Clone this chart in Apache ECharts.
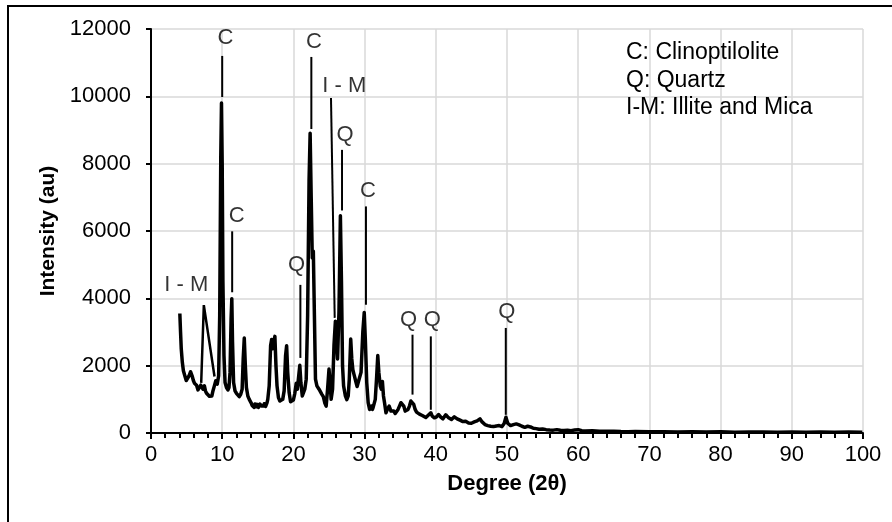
<!DOCTYPE html>
<html>
<head>
<meta charset="utf-8">
<script src="https://cdn.jsdelivr.net/npm/echarts@6/dist/echarts.min.js"></script>
<style>
html,body{margin:0;padding:0;background:#fff;}
#chart{width:892px;height:522px;}
</style>
</head>
<body>
<div id="chart"></div>
<script>
var xrdAngles = [
4.05,4.15,4.25,4.4,4.55,4.75,4.95,5.15,5.35,5.55,5.65,5.8,5.95,6.1,6.25,6.4,6.6,6.8,7.0,7.15,7.3,7.5,7.65,7.8,8.0,8.2,8.4,8.55,8.7,8.9,
9.1,9.3,9.5,9.65,9.8,9.9,10.0,10.1,10.25,10.4,10.6,10.8,10.95,11.1,11.25,11.35,11.45,11.6,11.8,12.0,12.2,12.4,12.6,12.8,12.95,13.1,13.25,13.4,13.6,13.8,
14.0,14.1,14.2,14.3,14.4,14.5,14.6,14.7,14.8,14.9,15.0,15.1,15.2,15.3,15.4,15.5,15.6,15.7,15.8,15.9,16.0,16.1,16.2,16.3,16.4,16.6,16.8,16.95,17.1,17.25,17.4,17.55,17.7,17.9,18.1,18.3,18.5,18.7,18.9,19.05,19.2,19.4,
19.6,19.8,20.0,20.2,20.4,20.55,20.75,20.9,21.05,21.25,21.45,21.6,21.8,22.0,22.2,22.35,22.5,22.65,22.8,22.95,23.1,23.3,23.45,23.6,23.8,24.0,24.2,24.4,24.6,24.8,
25.0,25.15,25.3,25.5,25.7,25.9,26.05,26.2,26.4,26.6,26.75,26.9,27.05,27.3,27.5,27.7,27.85,28.05,28.2,28.35,28.5,28.65,28.8,28.95,29.1,29.3,29.5,29.75,29.95,30.1,
30.3,30.5,30.7,30.8,30.9,31.0,31.1,31.2,31.3,31.5,31.7,31.85,32.0,32.2,32.35,32.5,32.65,32.8,33.0,33.2,33.45,33.7,33.9,34.1,34.3,34.5,34.7,34.9,35.1,35.3,35.5,35.7,35.9,
36.1,36.3,36.5,36.7,36.9,37.1,37.3,37.5,37.7,37.9,38.1,38.3,38.6,38.9,39.1,39.3,39.5,39.8,40.1,40.4,40.7,41.0,41.4,41.8,42.2,42.6,43.0,43.4,43.8,44.2,
44.6,45.0,45.4,45.8,46.2,46.5,46.9,47.3,47.7,48.1,48.5,48.9,49.3,49.6,49.85,50.1,50.5,50.9,51.3,51.7,52.1,52.5,52.9,53.3,53.7,54.1,54.5,55.0,55.5,56.0,
56.5,57.0,57.5,58.0,58.5,59.0,59.5,60.0,60.5,61,62,63,64,65,66,67,68,70,72,74,76,78,80,82,84,86,88,90,92,94,96,98,99.9
];
var xrdIntensity = [
3550,3000,2500,2100,1850,1700,1560,1580,1700,1820,1860,1680,1560,1480,1500,1420,1280,1300,1420,1380,1300,1400,1250,1180,1150,1090,1130,1100,1250,1400,
1550,1450,1700,3500,8200,9800,8000,4500,2300,1500,1350,1280,1350,1800,3400,3990,2700,1500,1250,1180,1150,1080,1150,1300,2200,2820,2000,1350,1100,1000,
950,880,820,870,800,760,860,820,780,850,840,760,790,860,900,800,820,780,800,870,850,790,820,900,1000,1400,2600,2780,2500,2700,2870,2000,1400,1050,950,900,1000,1250,2300,2590,1800,1200,
930,900,980,1180,1480,1300,1700,2010,1500,1100,1050,1300,1600,3500,7500,8900,7000,5200,5400,3500,1600,1400,1450,1300,1350,1150,1080,900,800,1300,
1900,1500,1000,1300,2600,3320,2800,2200,3600,6450,4500,2000,1400,1100,990,1100,1600,2790,2200,1880,1750,1800,1500,1380,1500,1450,1800,3000,3580,2800,
1500,900,700,780,720,800,700,760,800,1000,1700,2300,1800,1400,1300,1530,1100,900,600,700,800,650,600,650,580,620,700,800,900,950,800,650,620,
700,800,950,1000,850,700,620,600,560,580,520,500,460,520,480,600,500,450,480,550,470,420,540,450,400,480,420,380,340,350,
300,290,330,360,420,330,250,220,200,190,210,220,190,280,470,290,220,250,270,240,200,170,200,180,140,130,110,120,100,90,
85,100,80,75,80,70,90,100,70,60,65,55,50,55,45,40,45,35,40,30,35,30,35,25,30,30,25,30,25,30,25,28,25
];
// Broad Illite/Mica hump drawn over the low-angle region
var imHumpAngles = [7.05, 7.42, 8.92];
var imHumpIntensity = [1490, 3800, 1680];

// Peak leader lines: [angle start, intensity start, angle end, intensity end]
var leaderLines = [
  [10.0, 11200, 10.0, 9980],
  [11.4, 5990, 11.4, 4180],
  [20.98, 4400, 20.98, 2230],
  [22.52, 11170, 22.52, 9030],
  [25.28, 9950, 25.8, 3420],
  [26.83, 8410, 26.83, 6610],
  [30.19, 6730, 30.19, 3810],
  [36.73, 2920, 36.73, 1140],
  [39.3, 2870, 39.3, 690],
  [49.83, 3120, 49.83, 540]
];
// Peak labels
var peakLabelText = ['I - M', 'C', 'C', 'Q', 'C', 'I - M', 'Q', 'C', 'Q', 'Q', 'Q'];
var peakLabelAngle = [4.95, 10.46, 12.05, 20.46, 22.9, 27.15, 27.25, 30.47, 36.18, 39.5, 49.97];
var peakLabelIntensity = [4385, 11730, 6454, 5000, 11612, 10315, 8860, 7176, 3345, 3365, 3594];

var legendLines = ['C: Clinoptilolite', 'Q: Quartz', 'I-M: Illite and Mica'];
var xTitle = 'Degree (2\u03b8)';
var yTitle = 'Intensity (au)';

// ---- Build chart ----
var font = 'Liberation Sans, Arial, sans-serif';
var chart = echarts.init(document.getElementById('chart'), null, {renderer: 'canvas'});

var mainData = xrdAngles.map(function (a, i) { return [a, xrdIntensity[i]]; });
var humpData = imHumpAngles.map(function (a, i) { return [a, imHumpIntensity[i]]; });
var labelData = peakLabelText.map(function (t, i) { return {name: t, value: [peakLabelAngle[i], peakLabelIntensity[i]]}; });

var series = [{
  type: 'line', data: mainData, showSymbol: false, symbol: 'none',
  lineStyle: {color: '#000', width: 3.5, join: 'round'}, z: 5, animation: false
}, {
  type: 'line', data: humpData, showSymbol: false, symbol: 'none',
  lineStyle: {color: '#000', width: 2.5}, z: 5, animation: false
}];
leaderLines.forEach(function (l) {
  series.push({
    type: 'line', data: [[l[0], l[1]], [l[2], l[3]]], showSymbol: false, symbol: 'none',
    lineStyle: {color: '#000', width: 2}, z: 4, animation: false
  });
});
series.push({
  type: 'scatter', data: labelData, symbolSize: 0, z: 6, animation: false,
  label: {show: true, position: 'inside', formatter: '{b}', color: '#000', fontSize: 22, fontFamily: font}
});

chart.setOption({
  animation: false,
  backgroundColor: '#fff',
  grid: {left: 151, right: 29, top: 29, bottom: 89, containLabel: false},
  xAxis: {
    type: 'value', min: 0, max: 100, interval: 10,
    name: xTitle, nameLocation: 'middle', nameGap: 40,
    nameTextStyle: {fontSize: 22, fontWeight: 'bold', color: '#000', fontFamily: font},
    axisLine: {lineStyle: {color: '#000', width: 2}},
    axisTick: {show: true, inside: false, length: 6, lineStyle: {color: '#000', width: 2}},
    minorTick: {show: true, splitNumber: 5, length: 5, lineStyle: {color: '#000', width: 2}},
    axisLabel: {fontSize: 22, color: '#000', margin: 11, fontFamily: font},
    splitLine: {show: true, lineStyle: {color: '#d9d9d9', width: 1.5}}
  },
  yAxis: {
    type: 'value', min: 0, max: 12000, interval: 2000,
    name: yTitle, nameLocation: 'middle', nameGap: 90,
    nameTextStyle: {fontSize: 21, fontWeight: 'bold', color: '#000', fontFamily: font},
    axisLine: {show: true, lineStyle: {color: '#000', width: 2}},
    axisTick: {show: true, inside: false, length: 5, lineStyle: {color: '#000', width: 2}},
    axisLabel: {fontSize: 22, color: '#000', margin: 20, fontFamily: font,
      formatter: function (v) { return String(v); }},
    splitLine: {show: true, lineStyle: {color: '#d9d9d9', width: 1.5}}
  },
  graphic: [{
    type: 'rect', shape: {x: 8, y: 6, width: 900, height: 540},
    style: {fill: 'none', stroke: '#000', lineWidth: 2}, z: 10, silent: true
  }, {
    type: 'text', left: 626, top: 39, z: 10,
    style: {text: legendLines.join('\n'), font: '23px ' + font, fill: '#000', lineHeight: 27.5}
  }],
  series: series
});
</script>
</body>
</html>
